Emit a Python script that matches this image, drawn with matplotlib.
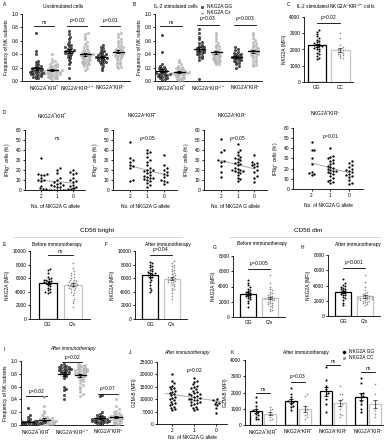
import numpy as np
import matplotlib
matplotlib.use("Agg")
import matplotlib.pyplot as plt
from matplotlib.lines import Line2D

plt.rcParams['font.family'] = ['Liberation Sans', 'DejaVu Sans']
plt.rcParams['mathtext.fontset'] = 'custom'
plt.rcParams['mathtext.rm'] = 'Liberation Sans'
plt.rcParams['mathtext.it'] = 'Liberation Sans:italic'
plt.rcParams['axes.linewidth'] = 0.6

# ---------------- data ----------------
subsets3 = [r'NKG2A$^{-}$KIR$^{-}$', r'NKG2A$^{+}$KIR$^{+/-}$', r'NKG2A$^{-}$KIR$^{+}$']
subsets4 = [r'NKG2A$^{-}$KIR$^{-}$', r'NKG2A$^{+}$KIR$^{-}$', r'NKG2A$^{+}$KIR$^{+}$', r'NKG2A$^{-}$KIR$^{+}$']
allele_labels = ['2', '1', '0']

# A: unstimulated cells
a_gg = [
    [0.72, 0.45, 0.40, 0.30, 0.28, 0.25, 0.24, 0.22, 0.21, 0.20, 0.19, 0.18, 0.18, 0.17, 0.16, 0.15,
     0.15, 0.14, 0.13, 0.13, 0.12, 0.12, 0.11, 0.10, 0.10, 0.09, 0.08, 0.07, 0.06, 0.05, 0.04],
    [0.74, 0.70, 0.65, 0.62, 0.58, 0.55, 0.53, 0.52, 0.50, 0.49, 0.48, 0.47, 0.46, 0.45, 0.44, 0.43,
     0.42, 0.41, 0.40, 0.38, 0.36, 0.34, 0.31, 0.28, 0.25, 0.19, 0.05],
    [0.53, 0.51, 0.49, 0.47, 0.45, 0.44, 0.42, 0.41, 0.40, 0.39, 0.38, 0.37, 0.36, 0.35, 0.35, 0.34,
     0.33, 0.32, 0.31, 0.30, 0.29, 0.28, 0.27, 0.25, 0.23, 0.20, 0.16],
]
a_cx = [
    [0.40, 0.33, 0.30, 0.28, 0.26, 0.25, 0.24, 0.23, 0.22, 0.21, 0.20, 0.19, 0.18, 0.17, 0.17, 0.16,
     0.16, 0.15, 0.15, 0.14, 0.14, 0.13, 0.13, 0.12, 0.12, 0.11, 0.10, 0.10, 0.09, 0.09, 0.08, 0.07,
     0.06, 0.05, 0.05, 0.04, 0.03],
    [0.72, 0.70, 0.66, 0.62, 0.58, 0.55, 0.52, 0.50, 0.48, 0.46, 0.45, 0.44, 0.43, 0.42, 0.41, 0.40,
     0.40, 0.39, 0.38, 0.38, 0.37, 0.36, 0.35, 0.34, 0.33, 0.32, 0.31, 0.30, 0.29, 0.28, 0.27, 0.26,
     0.25, 0.24, 0.22, 0.20, 0.17],
    [0.72, 0.70, 0.65, 0.62, 0.60, 0.58, 0.56, 0.54, 0.52, 0.50, 0.49, 0.48, 0.47, 0.46, 0.45, 0.44,
     0.43, 0.42, 0.41, 0.40, 0.39, 0.38, 0.37, 0.36, 0.35, 0.33, 0.31, 0.29, 0.27, 0.25, 0.23, 0.21, 0.20],
]
a_p = ['ns', r'$p$=0.02', r'$p$=0.01']

# B: IL-2 stimulated cells
b_gg = [
    [0.69, 0.44, 0.25, 0.23, 0.21, 0.20, 0.19, 0.18, 0.17, 0.16, 0.15, 0.14, 0.13, 0.12, 0.12, 0.11,
     0.10, 0.10, 0.09, 0.08, 0.07, 0.06, 0.05, 0.04, 0.03, 0.02, 0.08, 0.11],
    [0.78, 0.72, 0.66, 0.62, 0.58, 0.56, 0.54, 0.52, 0.51, 0.50, 0.49, 0.48, 0.47, 0.46, 0.45, 0.44,
     0.43, 0.42, 0.41, 0.40, 0.38, 0.36, 0.34, 0.32, 0.03],
    [0.50, 0.48, 0.46, 0.44, 0.42, 0.41, 0.40, 0.39, 0.38, 0.37, 0.36, 0.36, 0.35, 0.34, 0.33, 0.32,
     0.31, 0.30, 0.29, 0.27, 0.25, 0.22, 0.20],
]
b_cx = [
    [0.32, 0.28, 0.25, 0.23, 0.21, 0.20, 0.19, 0.18, 0.17, 0.16, 0.15, 0.14, 0.14, 0.13, 0.13, 0.12,
     0.12, 0.11, 0.11, 0.10, 0.10, 0.09, 0.08, 0.07, 0.06, 0.05, 0.04, 0.03, 0.02, 0.02],
    [0.72, 0.68, 0.64, 0.60, 0.57, 0.54, 0.52, 0.50, 0.48, 0.46, 0.45, 0.44, 0.43, 0.42, 0.41, 0.40,
     0.39, 0.38, 0.37, 0.36, 0.35, 0.34, 0.33, 0.32, 0.31, 0.30, 0.29, 0.28, 0.26, 0.25],
    [0.72, 0.68, 0.64, 0.61, 0.58, 0.56, 0.54, 0.52, 0.50, 0.49, 0.48, 0.47, 0.46, 0.45, 0.44, 0.43,
     0.42, 0.41, 0.40, 0.39, 0.38, 0.36, 0.34, 0.32, 0.30, 0.28, 0.26, 0.24, 0.22],
]
b_p = ['ns', r'$p$=0.03', r'$p$=0.003']

# C: IL-2 stimulated NKG2A+KIR+/- cells, NKG2A MFI
c_gg = [3200, 3100, 2950, 2800, 2700, 2600, 2500, 2450, 2400, 2350, 2300, 2250, 2200, 2200, 2150,
        2100, 2050, 2000, 1900, 1800, 1700, 1600, 1500, 1400]
c_cc = [3000, 2700, 2300, 2150, 2050, 2000, 1950, 1900, 1850, 1800, 1750, 1700, 1650, 1600, 1500, 1450]

# D: IFNg+ cells vs number of NKG2A G alleles (groups: 2, 1, 0)
d_titles = subsets4
d_p = ['ns', r'$p$=0.05', r'$p$=0.05', r'$p$=0.01']
d_vals = [
    [[32, 16, 15, 15, 16, 12, 10, 10, 9, 4],
     [22, 20, 17, 12, 10, 8, 7, 6, 5, 5, 4, 3, 3, 2, 2, 1, 1, 1, 0.5, 0.5, 0, 0, 0, 0, 0.5, 1],
     [20, 18, 17, 16, 12, 10, 9, 8, 5, 4, 3, 2]],
    [[48, 32, 30, 28, 25, 24, 22, 10, 9],
     [40, 38, 37, 33, 30, 28, 25, 22, 20, 20, 19, 18, 17, 15, 14, 13, 12, 12, 11, 10, 9, 7, 5, 3],
     [35, 25, 22, 20, 18, 16, 15, 13, 10, 9, 8, 6]],
    [[51, 40, 38, 30, 29, 28, 24, 18, 13],
     [46, 40, 38, 35, 33, 32, 31, 30, 28, 27, 26, 25, 22, 21, 20, 20, 19, 19, 18, 17, 15, 12, 11, 9],
     [35, 28, 27, 26, 25, 24, 23, 20, 18, 14, 12, 8]],
    [[46, 38, 38, 30, 25, 17, 16, 15, 14],
     [40, 32, 31, 30, 29, 28, 26, 25, 23, 22, 21, 20, 19, 18, 18, 17, 16, 15, 13, 11, 9, 8, 7, 6],
     [28, 26, 24, 22, 20, 19, 18, 17, 15, 14, 13, 12, 9, 6, 5]],
]

# E-H: NKG2A MFI, GG vs C/x
e_gg = [7400, 7200, 6800, 6200, 6000, 5900, 5800, 5700, 5600, 5500, 5400, 5300, 5200, 5000, 4800,
        4600, 4400, 4200, 4000, 3800, 3900]
e_cx = [8300, 7500, 7000, 6800, 6600, 6400, 6200, 6000, 5800, 5700, 5600, 5500, 5400, 5300, 5200,
        5100, 5000, 5000, 4900, 4800, 4700, 4600, 4500, 4400, 4200, 4000, 3800, 3500, 3000, 2700,
        2300, 1700]
f_gg = [8400, 8200, 8000, 7800, 7600, 7400, 7200, 7000, 6900, 6800, 6700, 6600, 6500, 6400, 6200,
        6000, 5700, 5400, 5000, 4600, 4300, 4000]
f_cx = [8500, 8300, 8000, 7800, 7600, 7400, 7200, 7000, 6800, 6600, 6400, 6300, 6200, 6100, 6000,
        5900, 5800, 5700, 5600, 5500, 5400, 5300, 5200, 5000, 4800, 4600, 4400, 4200, 3800, 3400, 3000]
g_gg = [4800, 4500, 4200, 3900, 3700, 3500, 3400, 3300, 3200, 3100, 3000, 2900, 2800, 2700, 2600,
        2500, 2300, 2100, 1800, 1300]
g_cx = [5500, 4400, 4000, 3700, 3500, 3300, 3100, 3000, 2900, 2800, 2700, 2600, 2500, 2500, 2400,
        2400, 2300, 2200, 2200, 2100, 2000, 1900, 1800, 1700, 1600, 1500, 1300, 1100, 900, 800]
h_gg = [4900, 4300, 4100, 3900, 3800, 3700, 3600, 3500, 3400, 3300, 3200, 3100, 3000, 2900, 2800,
        2700, 2500, 2300, 2100, 1700, 1400]
h_cx = [5400, 4400, 3800, 3400, 3200, 3000, 2900, 2800, 2700, 2600, 2600, 2500, 2500, 2400, 2400,
        2400, 2300, 2300, 2200, 2200, 2100, 2100, 2000, 2000, 1900, 1800, 1700, 1600, 1500]
bar_groups = ['GG', 'C/x']

# I: NK subsets after immunotherapy
i_gg = [
    [0.27, 0.15, 0.12, 0.10, 0.08, 0.07, 0.06, 0.06, 0.05, 0.05, 0.04, 0.04, 0.04, 0.03, 0.03, 0.03,
     0.02, 0.02, 0.02, 0.01, 0.01, 0.01, 0.0, 0.0, 0.02, 0.03, 0.05, 0.06],
    [0.95, 0.93, 0.92, 0.91, 0.90, 0.89, 0.88, 0.87, 0.86, 0.85, 0.84, 0.83, 0.82, 0.81, 0.80, 0.78,
     0.76, 0.74, 0.60, 0.57, 0.55, 0.47, 0.41, 0.88, 0.90, 0.86],
    [0.47, 0.45, 0.20, 0.17, 0.15, 0.14, 0.13, 0.12, 0.11, 0.10, 0.10, 0.09, 0.09, 0.08, 0.08, 0.07,
     0.07, 0.06, 0.06, 0.05, 0.05, 0.04, 0.04, 0.03, 0.02, 0.01],
]
i_cx = [
    [0.43, 0.30, 0.22, 0.18, 0.15, 0.13, 0.12, 0.11, 0.10, 0.09, 0.09, 0.08, 0.08, 0.07, 0.07, 0.06,
     0.06, 0.05, 0.05, 0.04, 0.04, 0.03, 0.03, 0.02, 0.02, 0.01, 0.01, 0.0, 0.0, 0.0, 0.05, 0.06],
    [0.95, 0.94, 0.93, 0.92, 0.91, 0.90, 0.89, 0.88, 0.87, 0.86, 0.85, 0.84, 0.83, 0.82, 0.81, 0.80,
     0.79, 0.78, 0.77, 0.76, 0.75, 0.74, 0.72, 0.70, 0.68, 0.66, 0.63, 0.60, 0.56, 0.52, 0.48, 0.45,
     0.88, 0.86, 0.84, 0.82],
    [0.40, 0.30, 0.25, 0.22, 0.20, 0.18, 0.17, 0.16, 0.15, 0.14, 0.13, 0.12, 0.12, 0.11, 0.11, 0.10,
     0.10, 0.09, 0.08, 0.07, 0.06, 0.05, 0.04, 0.03, 0.02, 0.01, 0.14, 0.13],
]
i_p = [r'$p$=0.02', r'$p$=0.02', r'$p$=0.07']

# J: GZM-B MFI vs number of NKG2A G alleles
j_vals = [
    [20000, 17500, 16500, 15500, 15000, 14500, 14000, 13500, 13000, 12500, 12000, 11500, 11000,
     10500, 10000, 9500, 9000, 8500, 8000, 7500, 7000, 6500, 6000, 5500],
    [18500, 17500, 17000, 16000, 15500, 15000, 14500, 14000, 13500, 13000, 12500, 12000, 11500,
     11200, 11000, 10500, 10000, 9800, 9500, 9000, 8800, 8500, 8000, 7500, 7000, 6500, 6000, 5500,
     12000, 10000],
    [10000, 9500, 9000, 8500, 8000, 7500, 6500, 4500],
]

# K: GZM-B MFI per subset, GG vs CC
k_gg = [
    [1700, 1400, 1200, 1000, 900, 850, 800, 700, 600, 500, 400, 350],
    [2300, 1900, 1700, 1500, 1450, 1400, 1300, 1200, 1100, 900],
    [3600, 2800, 2400, 2200, 2000, 1900, 1600, 1300, 800],
    [2900, 2600, 2000, 1900, 1800, 1700, 1500, 1300, 1000, 800],
]
k_cc = [
    [1100, 1000, 900, 700, 600, 500, 400, 300],
    [1900, 1800, 1200, 1000, 900, 700, 600, 500, 400],
    [2400, 1900, 1900, 1600, 1500, 1300, 1200, 1000, 700, 600, 500],
    [2500, 1900, 1500, 1300, 1100, 900, 700, 500],
]
k_p = ['ns', r'$p$=0.03', 'ns', 'ns']
k_bracket = [1950, 2650, 3700, 3280]

# ---------------- helpers ----------------
W, H = 384, 440
FS = 3.5
GRAY = '#c4c4c4'
GRAY_E = '#a0a0a0'

fig = plt.figure(figsize=(W / 100, H / 100), dpi=100)


def add_ax(x0, x1, yt, yb):
    ax = fig.add_axes([x0 / W, 1 - yb / H, (x1 - x0) / W, (yb - yt) / H])
    ax.spines['top'].set_visible(False)
    ax.spines['right'].set_visible(False)
    ax.tick_params(length=1.6, width=0.6, pad=1, labelsize=FS)
    return ax


def ftext(x, y, s, size=FS, **kw):
    kw.setdefault('ha', 'center')
    fig.text(x / W, 1 - y / H, s, fontsize=size, va='center', **kw)


def swarm(ax, xc, vals, d):
    vals = np.asarray(vals, float)
    pix = ax.transData.transform(np.column_stack([np.full(len(vals), xc), vals]))
    cx = pix[0, 0]
    ys = pix[:, 1]
    cands = [0.0]
    for j in range(1, 60):
        cands += [j * d * 0.5, -j * d * 0.5]
    placed = []
    xs = np.empty(len(vals))
    for i in np.argsort(ys):
        for c in cands:
            if all((c - px) ** 2 + (ys[i] - py) ** 2 >= d * d * 0.9 for px, py in placed):
                break
        placed.append((c, ys[i]))
        xs[i] = cx + c
    return ax.transData.inverted().transform(np.column_stack([xs, ys]))[:, 0]


def sem(v):
    v = np.asarray(v, float)
    return v.std(ddof=1) / np.sqrt(len(v))


def mean_line(ax, xc, vals, half):
    m = np.mean(vals)
    ax.plot([xc - half, xc + half], [m, m], color='k', lw=0.9, zorder=6)
    ax.errorbar(xc, m, yerr=sem(vals), color='k', capsize=1.2, lw=0.6, capthick=0.6, zorder=6)


def bracket(ax, x1, x2, y, text, dy):
    ax.plot([x1, x2], [y, y], color='k', lw=0.6, clip_on=False)
    ax.text((x1 + x2) / 2, y + dy, text, ha='center', va='bottom', fontsize=FS, clip_on=False)


def dot_pair(ax, gg, cx, off, d, ylim, yticks, yfmt, bk, bdy, pvals):
    ax.set_ylim(*ylim)
    ax.set_yticks(yticks)
    ax.set_yticklabels([yfmt.format(t) for t in yticks])
    for k in range(len(gg)):
        xs = swarm(ax, k - off, gg[k], d)
        ax.scatter(xs, gg[k], s=2.6, facecolor='#555555', edgecolor='k', linewidth=0.35, zorder=4)
        xs = swarm(ax, k + off, cx[k], d)
        ax.scatter(xs, cx[k], s=2.6, facecolor=GRAY, edgecolor=GRAY_E, linewidth=0.3, zorder=3)
        mean_line(ax, k - off, gg[k], 0.16)
        mean_line(ax, k + off, cx[k], 0.16)
        bracket(ax, k - off - 0.06, k + off + 0.06, bk[k], pvals[k], bdy)


def bar_pair(ax, gg, cx, labels, ylim, yticks, bk, ptxt, bdy):
    ax.set_xlim(-0.7, 1.7)
    ax.set_ylim(*ylim)
    ax.set_yticks(yticks)
    ax.set_xticks([0, 1])
    ax.set_xticklabels(labels)
    ax.tick_params(axis='x', length=0, pad=2.5)
    ax.bar([0], [np.mean(gg)], width=0.72, facecolor='white', edgecolor='k', linewidth=0.9, zorder=1)
    ax.bar([1], [np.mean(cx)], width=0.72, facecolor='white', edgecolor=GRAY, linewidth=0.9, zorder=1)
    ax.scatter(swarm(ax, 0, gg, 2.3), gg, s=2.0, color='k', linewidth=0, zorder=3)
    ax.scatter(swarm(ax, 1, cx, 2.3), cx, s=1.4, color='#8c8c8c', linewidth=0, zorder=3)
    ax.errorbar(0, np.mean(gg), yerr=sem(gg), color='k', capsize=1.5, lw=0.6, capthick=0.6, zorder=5)
    ax.errorbar(1, np.mean(cx), yerr=sem(cx), color='#444444', capsize=1.5, lw=0.6, capthick=0.6, zorder=5)
    bracket(ax, 0, 1, bk, ptxt, bdy)


# ---------------- A ----------------
axA = add_ax(22, 130, 14, 81)
axA.set_xlim(-0.67, 2.6)
dot_pair(axA, a_gg, a_cx, 0.25, 2.4, (0, 1.0), [0, 0.2, 0.4, 0.6, 0.8, 1.0], '{:.1f}',
         [0.82, 0.82, 0.82], 0.02, a_p)
axA.set_xticks([0, 1, 2])
axA.set_xticklabels(subsets3)
axA.tick_params(axis='x', length=0, pad=2)
axA.set_ylabel('Frequency of NK subsets', fontsize=FS, labelpad=2)
ftext(63, 6, 'Unstimulated cells')
ftext(3, 5, 'A', ha='left')

# ---------------- B ----------------
axB = add_ax(155, 262, 14, 81)
axB.set_xlim(-0.43, 2.46)
dot_pair(axB, b_gg, b_cx, 0.23, 2.4, (0, 1.0), [0, 0.2, 0.4, 0.6, 0.8, 1.0], '{:.1f}',
         [0.82, 0.84, 0.84], 0.02, b_p)
axB.set_xticks([0, 1, 2])
axB.set_xticklabels(subsets3)
axB.tick_params(axis='x', length=0, pad=2)
axB.set_ylabel('Frequency of NK subsets', fontsize=FS, labelpad=2)
ftext(176, 6, 'IL-2 stimulated cells')
ftext(133, 5, 'B', ha='left')
hB = [Line2D([], [], ls='', marker='o', ms=1.7, mfc='#555555', mec='k', mew=0.35),
      Line2D([], [], ls='', marker='o', ms=1.7, mfc=GRAY, mec=GRAY_E, mew=0.3)]
fig.legend(hB, ['NKG2A GG', 'NKG2A Cx'], loc='upper left', bbox_to_anchor=(197 / W, 1 - 1 / H),
           frameon=False, fontsize=FS, handlelength=0.8, handletextpad=0.5, labelspacing=0.2,
           borderpad=0.2)

# ---------------- C ----------------
axC = add_ax(304, 353, 17, 82)
axC.set_xlim(-0.55, 1.55)
axC.set_ylim(0, 4000)
axC.set_yticks([0, 1000, 2000, 3000, 4000])
axC.set_xticks([0, 1])
axC.set_xticklabels(['GG', 'CC'])
axC.tick_params(axis='x', length=0, pad=2.5)
axC.bar([0], [np.mean(c_gg)], width=0.8, facecolor='white', edgecolor='k', linewidth=0.9)
axC.bar([1], [np.mean(c_cc)], width=0.8, facecolor='white', edgecolor=GRAY, linewidth=0.9)
axC.scatter(swarm(axC, 0, c_gg, 2.5), c_gg, s=2.2, color='k', linewidth=0, zorder=3)
axC.scatter(swarm(axC, 1, c_cc, 2.5), c_cc, s=1.4, color='#8c8c8c', linewidth=0, zorder=3)
axC.errorbar(0, np.mean(c_gg), yerr=sem(c_gg), color='k', capsize=1.5, lw=0.6, capthick=0.6, zorder=5)
axC.errorbar(1, np.mean(c_cc), yerr=sem(c_cc), color='#444444', capsize=1.5, lw=0.6, capthick=0.6, zorder=5)
bracket(axC, 0, 1, 3630, r'$p$=0.02', 80)
axC.set_ylabel('NKG2A (MFI)', fontsize=FS, labelpad=2)
ftext(336, 6, r'IL-2 stimulated NKG2A$^{+}$KIR$^{+/-}$ cells')
ftext(287, 5, 'C', ha='left')

# ---------------- D ----------------
ftext(3, 113, 'D', ha='left')
d_pos = [(25, 85, 130, 190), (113, 177, 130, 190), (204, 267, 130, 190), (293, 363, 128, 189)]
for n, (x0, x1, yt, yb) in enumerate(d_pos):
    ax = add_ax(x0, x1, yt, yb)
    ax.set_xlim(-1, 2.75)
    ax.set_ylim(0, 60)
    ax.set_yticks(range(0, 61, 10))
    ax.set_xticks([0, 1, 2])
    ax.set_xticklabels(allele_labels)
    xs_all, ys_all = [], []
    for k, vals in enumerate(d_vals[n]):
        xs = swarm(ax, k, vals, 2.8)
        ax.scatter(xs, vals, s=2.8, color='k', linewidth=0, zorder=3)
        xs_all += [k] * len(vals)
        ys_all += vals
    slope, icpt = np.polyfit(xs_all, ys_all, 1)
    ax.plot([0, 2], [icpt, icpt + 2 * slope], color='#9a9a9a', lw=0.6, zorder=2)
    ax.text(1, 52, d_p[n], ha='center', va='center', fontsize=FS)
    ax.set_ylabel(r'IFNg$^{+}$ cells (%)', fontsize=FS, labelpad=2)
    ax.set_xlabel('No. of NKG2A G allele', fontsize=FS, labelpad=4)
    fig.text(((x0 + x1) / 2 - 3) / W, 1 - (yt - 14) / H, d_titles[n], fontsize=FS,
             ha='center', va='center')

# ---------------- E-H ----------------
ftext(97, 230, 'CD56 bright', size=4.6)
ftext(308, 230, 'CD56 dim', size=4.6)
fig.add_artist(Line2D([13 / W, 182 / W], [1 - 237 / H, 1 - 237 / H], color='#cfcfcf', lw=0.6))
fig.add_artist(Line2D([230 / W, 380 / W], [1 - 237 / H, 1 - 237 / H], color='#cfcfcf', lw=0.6))

axE = add_ax(30, 90, 251, 319)
bar_pair(axE, e_gg, e_cx, bar_groups, (0, 10000), range(0, 10001, 2000), 9400, 'ns', 150)
axE.set_ylabel('NKG2A (MFI)', fontsize=FS, labelpad=2)
ftext(57, 244, 'Before immunotherapy')
ftext(3, 244, 'E', ha='left')

axF = add_ax(135, 187, 251, 319)
bar_pair(axF, f_gg, f_cx, bar_groups, (0, 10000), range(0, 10001, 2000), 9400, r'$p$=0.04', 150)
axF.set_ylabel('NKG2A (MFI)', fontsize=FS, labelpad=2)
ftext(168, 244, 'After immunotherapy')
ftext(105, 244, 'F', ha='left')

axG = add_ax(233, 285, 256, 317)
bar_pair(axG, g_gg, g_cx, bar_groups, (0, 8000), range(0, 8001, 2000), 6300, r'$p$=0.005', 150)
axG.set_ylabel('NKG2A (MFI)', fontsize=FS, labelpad=2)
ftext(262, 243, 'Before immunotherapy')
ftext(213, 247, 'G', ha='left')

axH = add_ax(328, 380, 255, 316)
bar_pair(axH, h_gg, h_cx, bar_groups, (0, 8000), range(0, 8001, 2000), 6300, r'$p$=0.001', 150)
axH.set_ylabel('NKG2A (MFI)', fontsize=FS, labelpad=2)
ftext(358, 244, 'After immunotherapy')
ftext(301, 247, 'H', ha='left')

# ---------------- I ----------------
axI = add_ax(21, 123, 361, 425)
axI.set_xlim(-0.42, 2.42)
dot_pair(axI, i_gg, i_cx, 0.23, 2.4, (0, 1.0), [0, 0.2, 0.4, 0.6, 0.8, 1.0], '{:.1f}',
         [0.45, 0.98, 0.49], 0.01, i_p)
axI.set_xticks([0, 1, 2])
axI.set_xticklabels(subsets3)
axI.tick_params(axis='x', length=0, pad=2)
axI.set_ylabel('Frequency of NK subsets', fontsize=FS, labelpad=2)
ftext(73, 348, 'After immunotherapy', style='italic')
ftext(3, 349, 'I', ha='left')

# ---------------- J ----------------
axJ = add_ax(157, 227, 362, 424)
axJ.set_xlim(-0.7, 2.5)
axJ.set_ylim(0, 25000)
axJ.set_yticks(range(0, 25001, 5000))
axJ.set_xticks([0, 1, 2])
axJ.set_xticklabels(allele_labels)
xs_all, ys_all = [], []
for k, vals in enumerate(j_vals):
    axJ.scatter(swarm(axJ, k, vals, 2.8), vals, s=2.8, color='k', linewidth=0, zorder=3)
    xs_all += [k] * len(vals)
    ys_all += vals
slope, icpt = np.polyfit(xs_all, ys_all, 1)
axJ.plot([-0.3, 2.3], [icpt - 0.3 * slope, icpt + 2.3 * slope], color='#9a9a9a', lw=0.6, zorder=2)
axJ.text(1, 21500, r'$p$=0.02', ha='center', va='center', fontsize=FS)
axJ.set_ylabel('GZM-B (MFI)', fontsize=FS, labelpad=2)
axJ.set_xlabel('No. of NKG2A G allele', fontsize=FS, labelpad=1.5)
ftext(187, 352, 'After immunotherapy', style='italic')
ftext(129, 352, 'J', ha='left')

# ---------------- K ----------------
axK = add_ax(245, 383, 360, 425)
axK.set_xlim(-0.51, 3.43)
axK.set_ylim(0, 4000)
axK.set_yticks(range(0, 4001, 1000))
axK.set_xticks(range(4))
axK.set_xticklabels(subsets4)
axK.tick_params(axis='x', length=0, pad=2)
for k in range(4):
    axK.bar([k - 0.2], [np.mean(k_gg[k])], width=0.34, facecolor='white', edgecolor='k', linewidth=0.9)
    axK.bar([k + 0.2], [np.mean(k_cc[k])], width=0.34, facecolor='white', edgecolor=GRAY, linewidth=0.9)
    axK.scatter(swarm(axK, k - 0.2, k_gg[k], 2.5), k_gg[k], s=2.2, color='k', linewidth=0, zorder=3)
    axK.scatter(swarm(axK, k + 0.2, k_cc[k], 2.5), k_cc[k], s=1.4, color='#8c8c8c', linewidth=0, zorder=3)
    axK.errorbar(k - 0.2, np.mean(k_gg[k]), yerr=sem(k_gg[k]), color='k', capsize=1.5, lw=0.6,
                 capthick=0.6, zorder=5)
    axK.errorbar(k + 0.2, np.mean(k_cc[k]), yerr=sem(k_cc[k]), color='#444444', capsize=1.5, lw=0.6,
                 capthick=0.6, zorder=5)
    bracket(axK, k - 0.2, k + 0.2, k_bracket[k], k_p[k], 60)
axK.set_ylabel('GZM-B (MFI)', fontsize=FS, labelpad=2)
ftext(306, 352, 'After immunotherapy')
ftext(231, 352, 'K', ha='left')
hK = [Line2D([], [], ls='', marker='o', ms=1.5, color='k'),
      Line2D([], [], ls='', marker='o', ms=1.1, color='#8c8c8c')]
fig.legend(hK, ['NKG2A GG', 'NKG2A CC'], loc='upper left', bbox_to_anchor=(339 / W, 1 - 346 / H),
           frameon=False, fontsize=FS, handlelength=0.8, handletextpad=0.5, labelspacing=0.2,
           borderpad=0.2)

fig.savefig('out.png', dpi=100)
